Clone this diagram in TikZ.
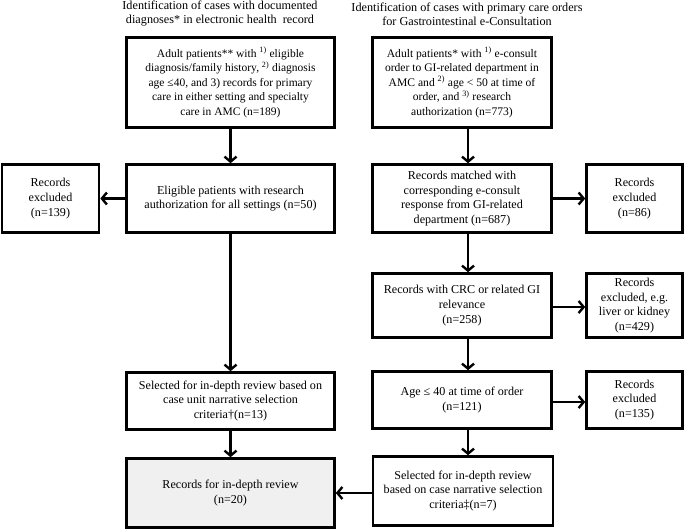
\documentclass[tikz,border=0pt]{standalone}
\usepackage{fontspec}
\setmainfont{Liberation Serif}
\usetikzlibrary{arrows.meta}
\begin{document}
\begin{tikzpicture}[x=1pt,y=-1pt,
  box/.style={draw, line width=2.6pt, align=center, inner sep=0pt, font=\fontsize{12.1}{14.6}\selectfont},
  gbox/.style={box, fill=black!6},
  arr/.style={line width=2.6pt, -{Straight Barb[length=5pt,width=12pt,line width=2.4pt]}},
  hdr/.style={align=center, inner sep=0pt, font=\fontsize{12.2}{14}\selectfont}]
\useasboundingbox (0,0) rectangle (685,531);
% headers
\node[hdr] (H1) at (220,14) {Identification of cases with documented\\diagnoses* in electronic health\ \ record};
\node[hdr] (H2) at (467,14) {Identification of cases with primary care orders\\for Gastrointestinal e-Consultation};
% left column
\node[box, font=\fontsize{11.5}{14.6}\selectfont, minimum width=208pt, minimum height=90pt] (A) at (230.5,82.5)
  {Adult patients** with \textsuperscript{1)} eligible\\diagnosis/family history, \textsuperscript{2)} diagnosis\\age ≤40, and 3) records for primary\\care in either setting and specialty\\care in AMC (n=189)};
\node[box, minimum width=208pt, minimum height=68pt] (E) at (230.5,198.5)
  {Eligible patients with research\\authorization for all settings (n=50)};
\node[box, minimum width=97pt, minimum height=68pt] (XL) at (50.5,198.5)
  {Records\\excluded\\(n=139)};
\node[box, minimum width=208pt, minimum height=57pt] (S) at (230.5,401)
  {Selected for in-depth review based on\\case unit narrative selection\\criteria†(n=13)};
\node[gbox, minimum width=208pt, minimum height=69pt] (F) at (230.5,493)
  {Records for in-depth review\\(n=20)};
% right column
\node[box, font=\fontsize{11.6}{14.6}\selectfont, minimum width=179pt, minimum height=90pt] (B) at (462,82.5)
  {Adult patients* with \textsuperscript{1)} e-consult\\order to GI-related department in\\AMC and \textsuperscript{2)} age < 50 at time of\\order, and \textsuperscript{3)} research\\authorization (n=773)};
\node[box, minimum width=179pt, minimum height=68pt] (M) at (462,198.5)
  {Records matched with\\corresponding e-consult\\response from GI-related\\department (n=687)};
\node[box, minimum width=96pt, minimum height=68pt] (XR1) at (634.5,198.5)
  {Records\\excluded\\(n=86)};
\node[box, minimum width=179pt, minimum height=64pt] (C) at (462,305.5)
  {Records with CRC or related GI\\relevance\\(n=258)};
\node[box, minimum width=96pt, minimum height=64pt] (XR2) at (634.5,305.5)
  {Records\\excluded, e.g.\\liver or kidney\\(n=429)};
\node[box, minimum width=179pt, minimum height=57pt] (G) at (462,400)
  {Age ≤ 40 at time of order\\(n=121)};
\node[box, minimum width=96pt, minimum height=57pt] (XR3) at (634.5,400)
  {Records\\excluded\\(n=135)};
\node[box, minimum width=180pt, minimum height=69pt] (S2) at (463,491)
  {Selected for in-depth review\\based on case narrative selection\\criteria‡(n=7)};
% arrows left
\draw[arr] (A.south) -- (E.north);
\draw[arr] (E.west) -- (XL.east);
\draw[arr] (E.south) -- (S.north);
\draw[arr] (S.south) -- (F.north);
% arrows right
\draw[arr] ([xshift=6pt]B.south) -- ([xshift=6pt]M.north);
\draw[arr] (M.east) -- (XR1.west);
\draw[arr] ([xshift=6pt]M.south) -- ([xshift=6pt]C.north);
\draw[arr] ([yshift=-1.5pt]C.east) -- ([yshift=-1.5pt]XR2.west);
\draw[arr] ([xshift=6pt]C.south) -- ([xshift=6pt]G.north);
\draw[arr] ([yshift=-2pt]G.east) -- ([yshift=-2pt]XR3.west);
\draw[arr] ([xshift=6pt]G.south) -- ([xshift=5pt]S2.north);
\draw[arr] ([yshift=-2pt]S2.west) -- ([yshift=-2pt]S2.west -| F.east);
\end{tikzpicture}
\end{document}
